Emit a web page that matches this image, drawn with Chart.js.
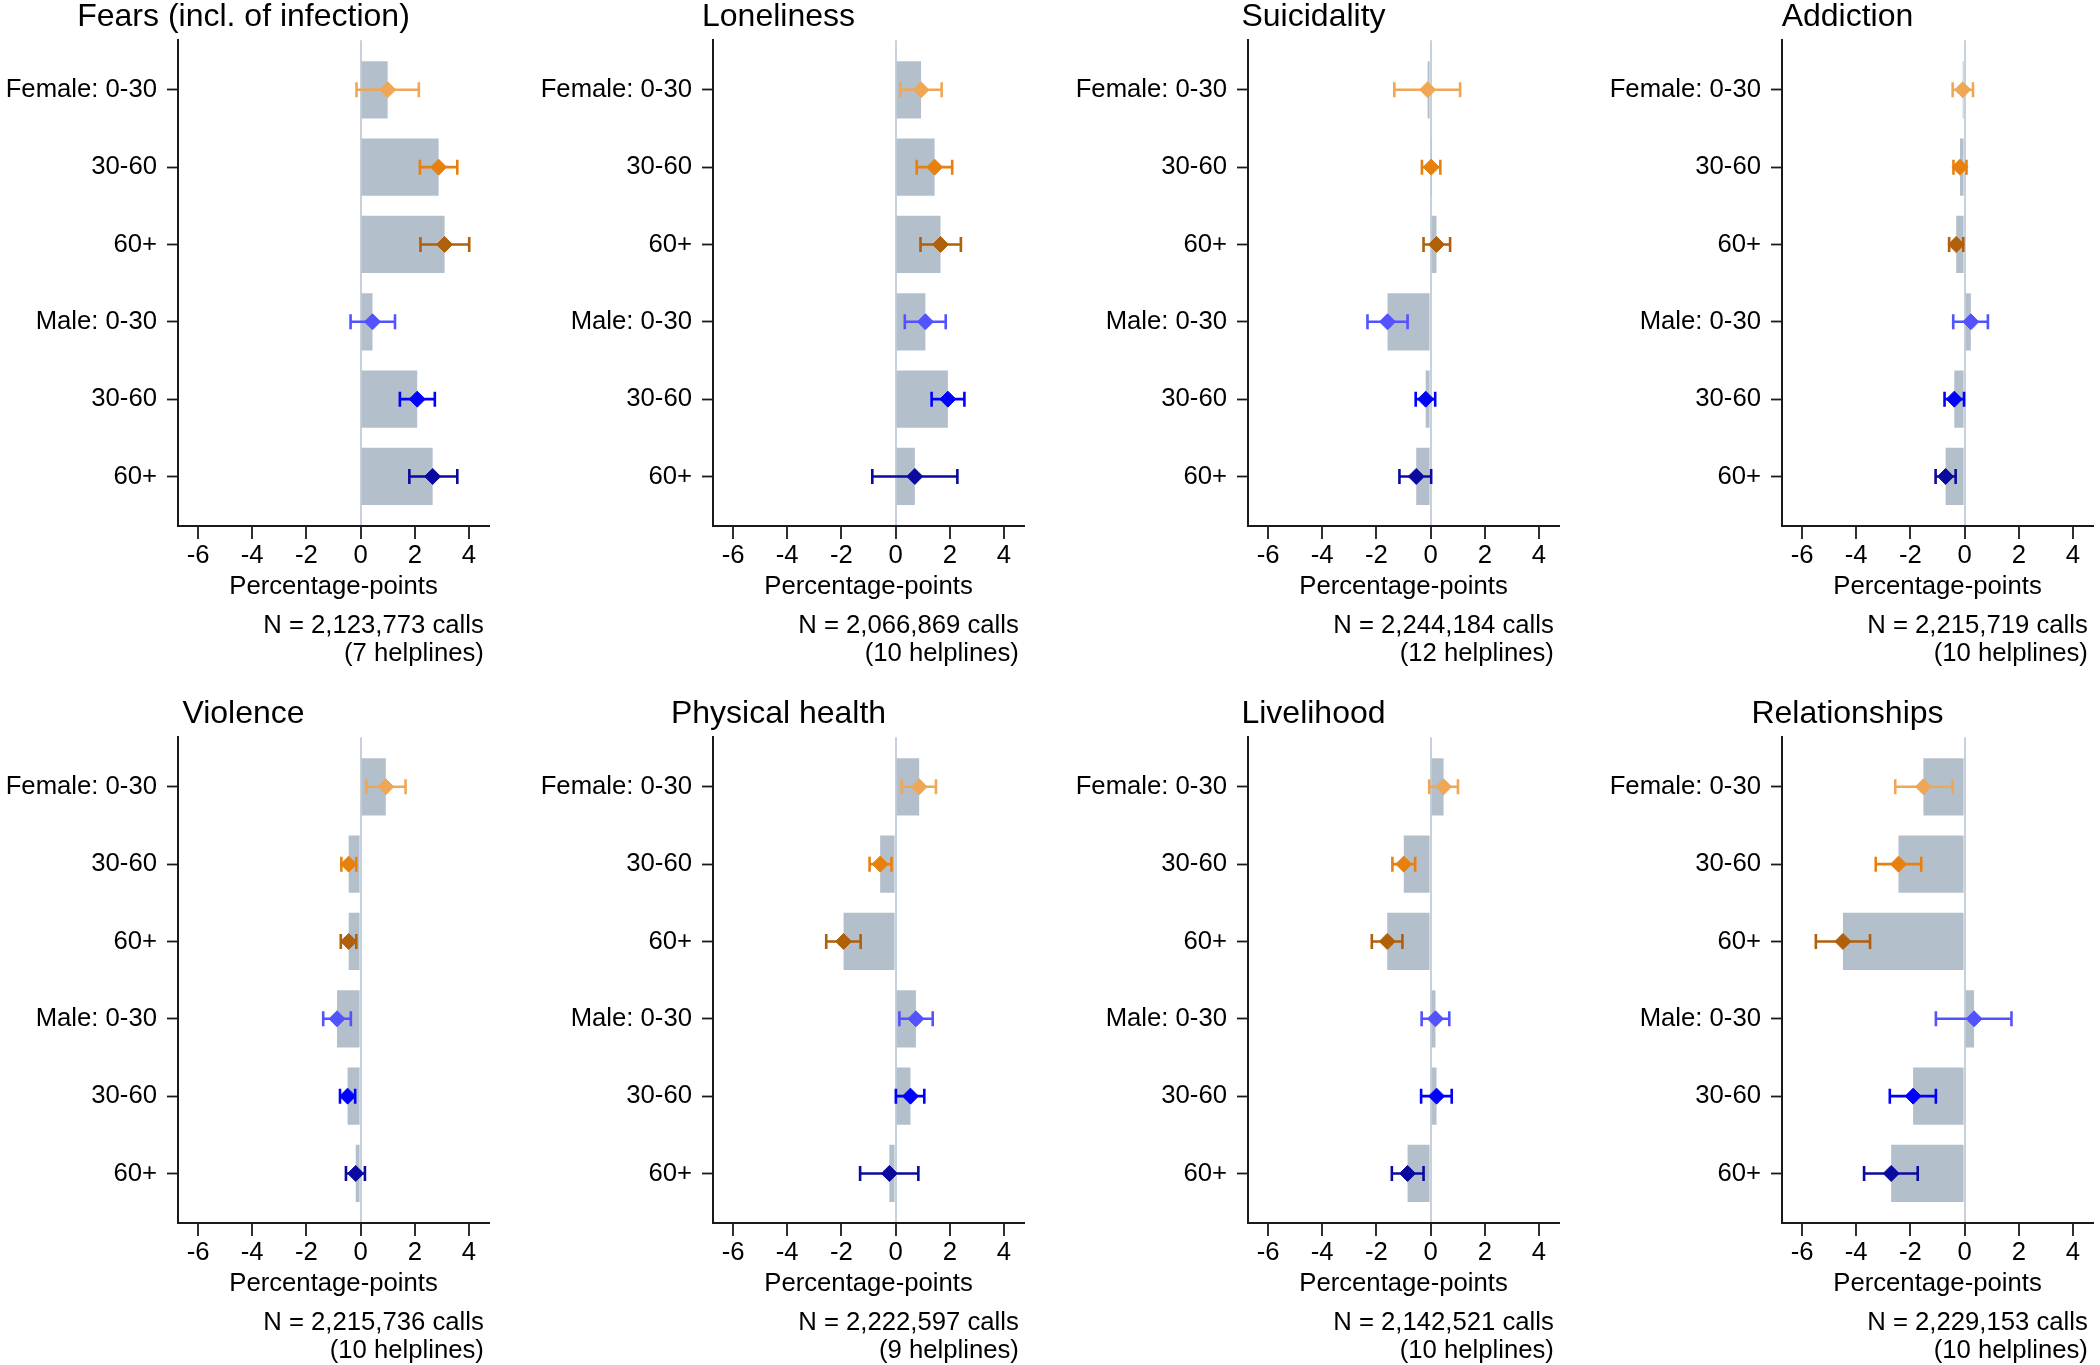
<!DOCTYPE html>
<html><head><meta charset="utf-8">
<script src="https://cdn.jsdelivr.net/npm/chart.js@4.4.1/dist/chart.umd.min.js"></script>
<style>
html,body{margin:0;padding:0;background:#fff;}
body{width:2100px;height:1365px;overflow:hidden;position:relative;}
canvas{position:absolute;display:block;}
</style></head><body>
<script>
// ---------- data ----------
const catLabels = ['Female: 0-30', '30-60', '60+', 'Male: 0-30', '30-60', '60+'];
const xTickValues = [-6, -4, -2, 0, 2, 4];
const panelTitles = ['Fears (incl. of infection)', 'Loneliness', 'Suicidality', 'Addiction',
                     'Violence', 'Physical health', 'Livelihood', 'Relationships'];
const nCalls = ['N = 2,123,773 calls', 'N = 2,066,869 calls', 'N = 2,244,184 calls', 'N = 2,215,719 calls',
                'N = 2,215,736 calls', 'N = 2,222,597 calls', 'N = 2,142,521 calls', 'N = 2,229,153 calls'];
const nHelplines = ['(7 helplines)', '(10 helplines)', '(12 helplines)', '(10 helplines)',
                    '(10 helplines)', '(9 helplines)', '(10 helplines)', '(10 helplines)'];

const fearsEst = [1.00, 2.88, 3.10, 0.44, 2.09, 2.66];
const fearsLo  = [-0.15, 2.19, 2.21, -0.37, 1.45, 1.80];
const fearsHi  = [2.15, 3.57, 4.01, 1.27, 2.74, 3.57];

const lonelinessEst = [0.94, 1.44, 1.66, 1.10, 1.93, 0.71];
const lonelinessLo  = [0.18, 0.78, 0.92, 0.34, 1.33, -0.86];
const lonelinessHi  = [1.70, 2.09, 2.41, 1.85, 2.54, 2.28];

const suicidalityEst = [-0.11, 0.02, 0.22, -1.59, -0.18, -0.53];
const suicidalityLo  = [-1.34, -0.32, -0.26, -2.33, -0.55, -1.15];
const suicidalityHi  = [1.09, 0.36, 0.72, -0.85, 0.17, 0.02];

const addictionEst = [-0.07, -0.17, -0.31, 0.23, -0.38, -0.70];
const addictionLo  = [-0.44, -0.41, -0.57, -0.42, -0.74, -1.07];
const addictionHi  = [0.31, 0.07, -0.05, 0.86, -0.02, -0.33];

const violenceEst = [0.93, -0.44, -0.44, -0.87, -0.48, -0.18];
const violenceLo  = [0.21, -0.71, -0.73, -1.38, -0.76, -0.54];
const violenceHi  = [1.66, -0.16, -0.16, -0.36, -0.20, 0.16];

const physicalEst = [0.87, -0.57, -1.92, 0.75, 0.55, -0.23];
const physicalLo  = [0.23, -0.96, -2.56, 0.14, 0.01, -1.31];
const physicalHi  = [1.49, -0.15, -1.29, 1.37, 1.06, 0.84];

const livelihoodEst = [0.48, -0.99, -1.60, 0.18, 0.22, -0.85];
const livelihoodLo  = [-0.05, -1.41, -2.17, -0.33, -0.35, -1.43];
const livelihoodHi  = [1.01, -0.57, -1.04, 0.69, 0.78, -0.26];

const relationshipsEst = [-1.52, -2.44, -4.49, 0.35, -1.90, -2.71];
const relationshipsLo  = [-2.56, -3.28, -5.49, -1.06, -2.76, -3.71];
const relationshipsHi  = [-0.44, -1.60, -3.49, 1.73, -1.06, -1.73];

const panelEst = [fearsEst, lonelinessEst, suicidalityEst, addictionEst, violenceEst, physicalEst, livelihoodEst, relationshipsEst];
const panelLo  = [fearsLo, lonelinessLo, suicidalityLo, addictionLo, violenceLo, physicalLo, livelihoodLo, relationshipsLo];
const panelHi  = [fearsHi, lonelinessHi, suicidalityHi, addictionHi, violenceHi, physicalHi, livelihoodHi, relationshipsHi];

// ---------- styles ----------
const groupColors = ['#f0a755', '#e8800e', '#b05f0a', '#5252ff', '#0000ff', '#0a0a9e'];
const BAR = '#b4bfcc';
const ZERO = '#c6d1dc';
const AXIS = '#1a1a1a';
const FONT = 25.7;

Chart.defaults.font.family = '"Liberation Sans", Arial, Helvetica, sans-serif';
Chart.defaults.color = '#000';

function makePanel(k) {
  const col = k % 4, row = Math.floor(k / 4);
  const cv = document.createElement('canvas');
  cv.width = 492; cv.height = 680;
  cv.style.width = '492px'; cv.style.height = '680px';
  cv.style.left = Math.round(col * 534.8 - 2) + 'px';
  cv.style.top = (row * 697) + 'px';
  document.body.appendChild(cv);

  const est = panelEst[k], lo = panelLo[k], hi = panelHi[k];
  const datasets = [];
  datasets.push({
    type: 'bar',
    data: est.map((v, i) => ({x: v, y: i + 1})),
    backgroundColor: BAR, borderWidth: 0,
    barPercentage: 0.74, categoryPercentage: 1,
    order: 3
  });
  est.forEach((v, i) => {
    datasets.push({
      type: 'line',
      data: [{x: lo[i], y: i + 1}, {x: hi[i], y: i + 1}],
      borderColor: groupColors[i], borderWidth: 2.6,
      pointStyle: 'line', pointRotation: 90, pointRadius: 7.5,
      pointBorderWidth: 2.6, pointBorderColor: groupColors[i], pointBackgroundColor: groupColors[i],
      fill: false, tension: 0, order: 2
    });
  });
  datasets.push({
    type: 'scatter',
    data: est.map((v, i) => ({x: v, y: i + 1})),
    pointStyle: 'rectRot', pointRadius: 8, pointBorderWidth: 1,
    pointBackgroundColor: groupColors, pointBorderColor: groupColors,
    showLine: false, order: 1
  });

  new Chart(cv, {
    type: 'bar',
    data: {datasets},
    options: {
      responsive: false, animation: false, events: [], indexAxis: 'y', devicePixelRatio: 1,
      layout: {autoPadding: false, padding: {top: 0, left: 0, right: 1, bottom: 11.7}},
      plugins: {
        legend: {display: false},
        tooltip: {enabled: false},
        title: {display: true, text: panelTitles[k], font: {size: 32, lineHeight: 0.92, weight: 'normal'},
                padding: {top: 2.7, bottom: 8.16}, color: '#000'},
        subtitle: {display: true, position: 'bottom', align: 'end', fullSize: false,
                   text: [nCalls[k] + '\u2009', nHelplines[k] + '\u2009'],
                   font: {size: FONT, lineHeight: 1.09}, padding: {top: 12.6, bottom: 0}, color: '#000'}
      },
      scales: {
        x: {
          type: 'linear', min: -6.74, max: 4.74,
          afterBuildTicks: s => { s.ticks = xTickValues.map(v => ({value: v})); },
          afterFit: s => { s.paddingLeft = 0; s.paddingRight = 0; },
          ticks: {callback: v => String(v), font: {size: FONT, lineHeight: 1.2}, padding: 1.58,
                  color: '#000', maxRotation: 0, autoSkip: false},
          grid: {display: true, drawOnChartArea: true, drawTicks: true, tickLength: 13,
                 color: c => (c.tick && c.tick.value === 0) ? ZERO : 'rgba(0,0,0,0)',
                 lineWidth: 2, tickColor: AXIS, tickWidth: 1.8},
          border: {display: true, color: AXIS, width: 2},
          title: {display: true, text: 'Percentage-points', font: {size: FONT, lineHeight: 1},
                  padding: {top: 1.0, bottom: 0}, color: '#000'}
        },
        y: {
          type: 'linear', reverse: true, min: 0.36, max: 6.64, offset: false,
          afterBuildTicks: s => { s.ticks = catLabels.map((c, i) => ({value: i + 1})); },
          afterFit: s => { s.width = 180; },
          ticks: {callback: v => catLabels[Math.round(v) - 1], font: {size: FONT}, padding: 10,
                  color: '#000', autoSkip: false},
          grid: {display: true, offset: false, drawOnChartArea: false, drawTicks: true, tickLength: 11,
                 tickColor: AXIS, tickWidth: 1.8},
          border: {display: true, color: AXIS, width: 2}
        }
      }
    }
  });
}
for (let k = 0; k < 8; k++) makePanel(k);
</script>
</body></html>
